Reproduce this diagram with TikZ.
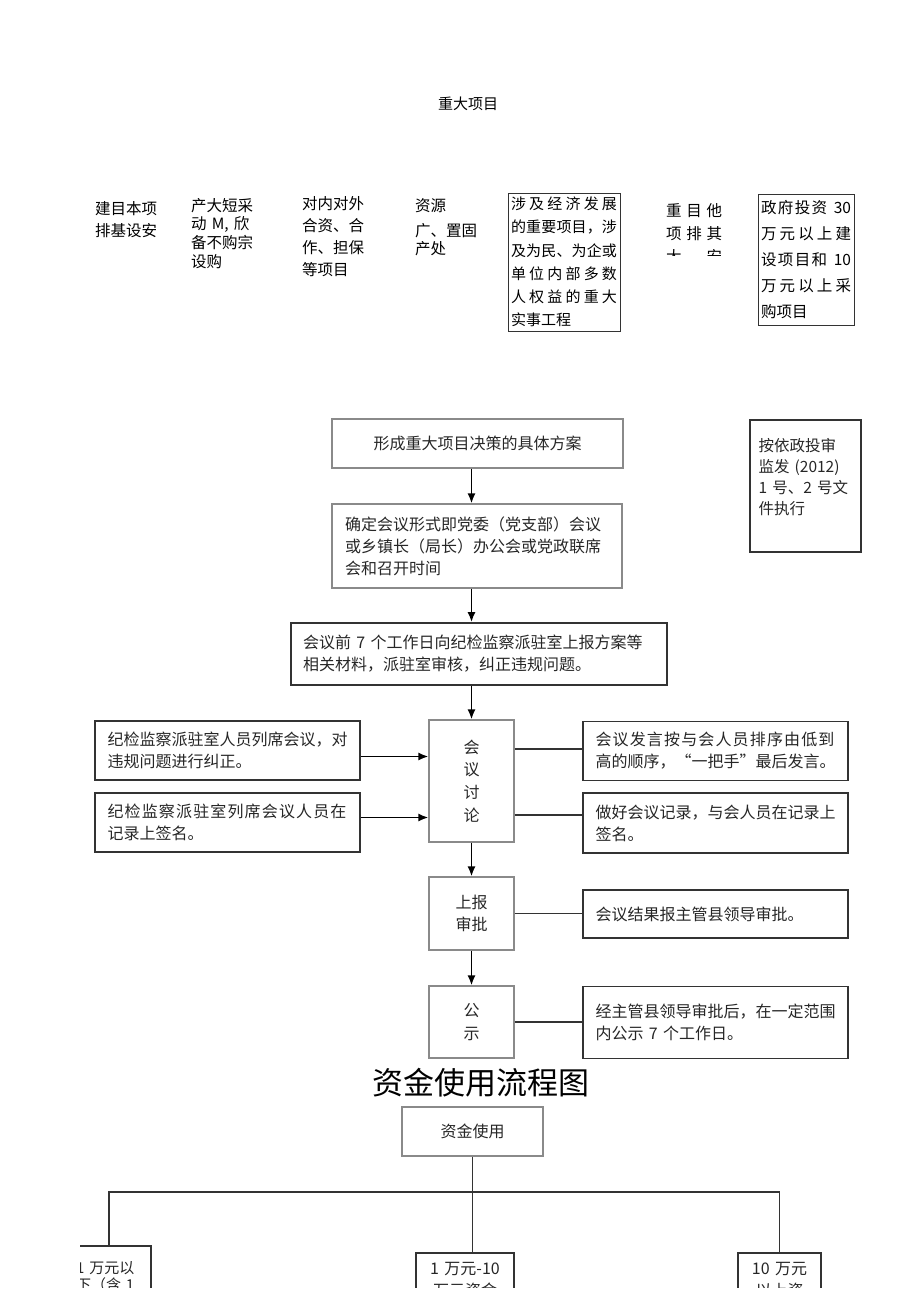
\documentclass[tikz,border=0pt]{standalone}
\usepackage{fontspec}
\setmainfont{Noto Sans CJK SC}
\usetikzlibrary{arrows.meta,positioning}

\definecolor{linedark}{HTML}{333333}
\definecolor{linegray}{HTML}{8A8A8A}
\definecolor{textgray}{HTML}{262626}

% spread the characters of one line over a given width
\makeatletter
\newcommand{\sline}[2]{\leavevmode\hbox to #1{\sline@go#2\sline@end}}
\def\sline@go#1{#1\sline@next}
\def\sline@endtok{\sline@end}
\def\sline@end{}
\def\sline@next#1{\def\sline@tmp{#1}\ifx\sline@tmp\sline@endtok\else\hfil#1\expandafter\sline@next\fi}
\makeatother

\tikzset{
  arr/.style={-{Latex[length=10pt,width=8pt]},line width=1.8pt,black},
  link/.style={line width=1.7pt,linedark},
  stepbox/.style={draw=linegray,line width=1.1pt,inner sep=0pt,text=textgray,
    font=\fontsize{16pt}{22pt}\selectfont},
  sidebox/.style={draw=linedark,line width=1.7pt,inner sep=0pt,text=textgray,
    font=\fontsize{16pt}{22pt}\selectfont},
  toptext/.style={anchor=base west,inner sep=0pt,align=left,
    font=\fontsize{15.5pt}{22pt}\selectfont},
}

\begin{document}
\begin{tikzpicture}[x=1pt,y=-1pt]
\useasboundingbox (0,0) rectangle (920,1301);

% heading of the first chart
\node[font=\fontsize{15pt}{18pt}\selectfont] (title) at (468,104) {重大项目};

% row of item kinds
\node[toptext,text width=70pt] (basic) at (95,214) {建目本项\\排基设安};
\node[toptext,text width=70pt,font=\fontsize{15.5pt}{18.7pt}\selectfont] (equip) at (191,211)
  {产大短采\\动 M, 欣\\备不购宗\\设购};
\node[toptext,text width=70pt,font=\fontsize{15.5pt}{22.3pt}\selectfont] (invest) at (302,209)
  {对内对外\\合资、合\\作、担保\\等项目};
\node[toptext,text width=70pt,font=\fontsize{15.5pt}{18pt}\selectfont] (asset) at (415,211)
  {资源\\[7pt]广、置固\\产处};
\node[draw=linedark,line width=1pt,inner sep=0pt,minimum width=112pt,minimum height=138pt,
  text width=106pt,align=left,font=\fontsize{15pt}{23.2pt}\selectfont] (public) at (564,262)
  {\sline{106pt}{涉及经济发展}\\\sline{106pt}{的重要项目，涉}\\\sline{106pt}{及为民、为企或}\\
   \sline{106pt}{单位内部多数}\\\sline{106pt}{人权益的重大}\\实事工程};
\begin{scope}
  \clip (650,190) rectangle (740,255);
  \node[toptext,text width=70pt,font=\fontsize{15.5pt}{23pt}\selectfont] (other) at (666,216)
    {\sline{56pt}{重目他}\\\sline{56pt}{项排其}\\\sline{56pt}{大安}};
\end{scope}
\node[draw=linedark,line width=1pt,inner sep=0pt,minimum width=96pt,minimum height=131pt,
  text width=90pt,align=left,font=\fontsize{15.5pt}{26.2pt}\selectfont] (gov) at (806,259.5)
  {\sline{90pt}{政府投资{\ 30}}\\\sline{90pt}{万元以上建}\\\sline{90pt}{设项目和{\ 10}}\\
   \sline{90pt}{万元以上采}\\购项目};

% main flow
\node[stepbox,minimum width=291pt,minimum height=49pt] (plan) at (477.5,443.5)
  {形成重大项目决策的具体方案};
\node[stepbox,minimum width=290pt,minimum height=84pt,text width=264pt,align=left] (form) at (477,546)
  {确定会议形式即党委（党支部）会议\\或乡镇长（局长）办公会或党政联席\\会和召开时间};
\node[sidebox,minimum width=376pt,minimum height=62pt,text width=352pt,align=left] (report) at (479,654)
  {会议前 7 个工作日向纪检监察派驻室上报方案等\\相关材料，派驻室审核，纠正违规问题。};
\node[draw=linedark,line width=1.4pt,inner sep=0pt,minimum width=111pt,minimum height=132pt,
  text width=94pt,align=left,text=textgray,text depth=82pt,
  font=\fontsize{15.5pt}{21pt}\selectfont] (rule) at (805.5,486)
  {按依政投审\\监发 (2012)\\1 号、2 号文\\件执行};

\node[stepbox,minimum width=85pt,minimum height=122pt,align=center,
  font=\fontsize{16pt}{22.7pt}\selectfont] (meet) at (471.5,781) {会\\议\\讨\\论};
\node[stepbox,minimum width=85pt,minimum height=73pt,align=center] (approve) at (471.5,913.5)
  {上报\\审批};
\node[stepbox,minimum width=85pt,minimum height=72pt,align=center,
  font=\fontsize{16pt}{23pt}\selectfont] (show) at (471.5,1022) {公\\示};

\node[sidebox,minimum width=265pt,minimum height=59pt,text width=240pt,align=left] (attend) at (227.5,750.5)
  {纪检监察派驻室人员列席会议，对\\违规问题进行纠正。};
\node[sidebox,minimum width=265pt,minimum height=59pt,text width=240pt,align=left] (sign) at (227.5,822.5)
  {\sline{239pt}{纪检监察派驻室列席会议人员在}\\记录上签名。};
\node[sidebox,minimum width=265pt,minimum height=59pt,text width=240pt,align=left] (order) at (715.5,751)
  {\sline{239pt}{会议发言按与会人员排序由低到}\\高的顺序，“一把手”最后发言。};
\node[sidebox,minimum width=265pt,minimum height=60pt,text width=240pt,align=left] (record) at (715.5,823)
  {做好会议记录，与会人员在记录上\\签名。};
\node[sidebox,minimum width=265pt,minimum height=48pt,text width=240pt,align=left] (result) at (715.5,914)
  {会议结果报主管县领导审批。};
\node[sidebox,minimum width=265pt,minimum height=72pt,text width=240pt,align=left] (notice) at (715.5,1022.5)
  {经主管县领导审批后，在一定范围\\内公示 7 个工作日。};

\draw[arr] (plan.south -| meet) -- (form.north -| meet);
\draw[arr] (form.south -| meet) -- (report.north -| meet);
\draw[arr] (report.south -| meet) -- (meet.north);
\draw[arr] (meet.south) -- (approve.north);
\draw[arr] (approve.south) -- (show.north);

\draw[arr] ([yshift=-6pt]attend.east) -- ([yshift=-6pt]attend.east -| meet.west);
\draw[arr] ([yshift=5pt]sign.east) -- ([yshift=5pt]sign.east -| meet.west);
\draw[link] ([yshift=2pt]order.west -| meet.east) -- ([yshift=2pt]order.west);
\draw[link] ([yshift=8pt]record.west -| meet.east) -- ([yshift=8pt]record.west);
\draw[link] (approve.east) -- (approve.east -| result.west);
\draw[link] (show.east) -- (show.east -| notice.west);

% second chart
\node[font=\fontsize{31pt}{36pt}\selectfont] (title2) at (481,1083) {资金使用流程图};
\node[stepbox,minimum width=141pt,minimum height=49pt] (fund) at (472.5,1131.5) {资金使用};
\coordinate (bar) at (472,1192);

\begin{scope}
  \clip (80,1150) rectangle (920,1287);
  \node[sidebox,anchor=north,minimum width=84pt,minimum height=90pt,inner xsep=6pt,inner ysep=16pt,
    text width=66pt,align=left,font=\fontsize{15pt}{16.5pt}\selectfont,text depth=60pt] (small) at (109,1245)
    {1 万元以\\下（含 1\\万元）};
  \node[sidebox,anchor=north,minimum width=98pt,minimum height=90pt,inner xsep=7pt,inner ysep=9pt,
    text width=74pt,align=center,text depth=60pt] (middle) at (465,1252)
    {1 万元-10\\万元资金};
  \node[sidebox,anchor=north,minimum width=83pt,minimum height=90pt,inner xsep=7pt,inner ysep=9pt,
    text width=62pt,align=center,text depth=60pt] (large) at (779.5,1252)
    {10 万元\\以上资};
  \draw[link] (fund.south) -- (fund.south |- middle.north);
  \draw[link] (small.north) |- (bar) -| (large.north);
\end{scope}

\end{tikzpicture}
\end{document}
